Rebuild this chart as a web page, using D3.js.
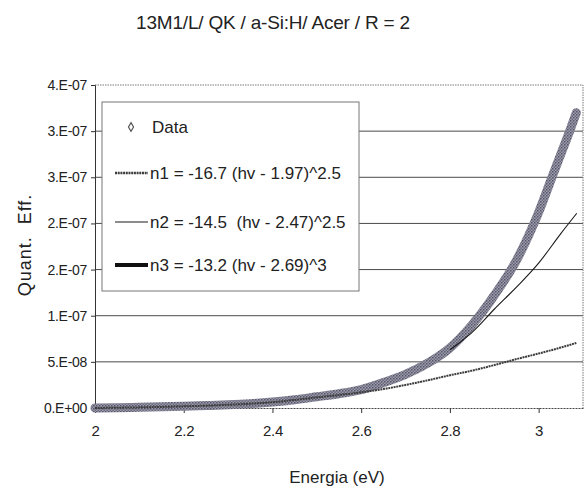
<!DOCTYPE html>
<html>
<head>
<meta charset="utf-8">
<script src="https://cdn.jsdelivr.net/npm/d3@7"></script>
<style>
  body { margin: 0; background: #fff; }
  text { font-family: "Liberation Sans", Arial, sans-serif; fill: #222; }
</style>
</head>
<body>
<svg id="chart" width="587" height="494"></svg>
<script>
// measured data (photon energy in eV, quantum efficiency)
var energy = [2.00, 2.05, 2.10, 2.15, 2.20, 2.25, 2.30, 2.35, 2.40, 2.45, 2.50, 2.55,
              2.60, 2.65, 2.70, 2.75, 2.80, 2.85, 2.90, 2.95, 3.00, 3.03, 3.05, 3.07, 3.085];
var qeData = [0, 0.3e-9, 0.8e-9, 1.3e-9, 1.9e-9, 2.6e-9, 3.4e-9, 4.6e-9, 6.5e-9, 9.0e-9, 1.22e-8, 1.55e-8,
              2.0e-8, 2.75e-8, 3.65e-8, 4.85e-8, 6.5e-8, 9.0e-8, 1.22e-7, 1.6e-7, 2.12e-7, 2.5e-7, 2.75e-7, 3.0e-7, 3.2e-7];

// fit curves
var n1Energy = [2.00, 2.10, 2.20, 2.30, 2.40, 2.50, 2.60, 2.65, 2.70, 2.75, 2.80, 2.85, 2.90, 2.95, 3.00, 3.05, 3.085];
var n1Values = [0, 0.7e-9, 1.8e-9, 3.5e-9, 6.3e-9, 1.15e-8, 1.7e-8, 2.05e-8, 2.5e-8, 3.0e-8, 3.55e-8, 4.05e-8,
                4.65e-8, 5.3e-8, 5.9e-8, 6.55e-8, 7.05e-8];
var n2Energy = [2.80, 2.83, 2.85, 2.90, 2.95, 3.00, 3.05, 3.086];
var n2Values = [6.3e-8, 7.4e-8, 8.2e-8, 1.07e-7, 1.31e-7, 1.57e-7, 1.89e-7, 2.11e-7];
var n3Energy = [2.75, 2.80, 2.85, 2.90, 2.95, 3.00, 3.05, 3.08];
var n3Values = [4.8e-8, 6.4e-8, 8.9e-8, 1.21e-7, 1.59e-7, 2.1e-7, 2.73e-7, 3.12e-7];

var yTicks = [0, 5e-8, 1e-7, 1.5e-7, 2e-7, 2.5e-7, 3e-7, 3.5e-7];
var yTickLabels = ["0.E+00", "5.E-08", "1.E-07", "2.E-07", "2.E-07", "3.E-07", "3.E-07", "4.E-07"];
var xTicks = [2, 2.2, 2.4, 2.6, 2.8, 3];
var xTickLabels = ["2", "2.2", "2.4", "2.6", "2.8", "3"];

var legendLabels = ["Data", "n1 = -16.7 (hv - 1.97)^2.5", "n2 = -14.5  (hv - 2.47)^2.5", "n3 = -13.2 (hv - 2.69)^3"];

(function() {
  var svg = d3.select('#chart');
  var plotL = 95, plotR = 583, plotT = 85, plotB = 408;

  var x = d3.scaleLinear().domain([2, 3.1]).range([plotL, plotR]);
  var y = d3.scaleLinear().domain([0, 3.5e-7]).range([plotB, plotT]);

  // texture for the data band (looks like a halftone in the scan)
  var defs = svg.append('defs');
  var pat = defs.append('pattern').attr('id', 'band')
    .attr('patternUnits', 'userSpaceOnUse').attr('width', 3).attr('height', 3);
  pat.append('rect').attr('width', 3).attr('height', 3).attr('fill', '#9c9cad');
  pat.append('rect').attr('width', 1.5).attr('height', 1.5).attr('fill', '#55556a');
  pat.append('rect').attr('x', 1.5).attr('y', 1.5).attr('width', 1.5).attr('height', 1.5).attr('fill', '#6a6a7c');

  // title
  svg.append('text').attr('x', 273).attr('y', 29).attr('text-anchor', 'middle')
    .style('font-size', '19px').style('letter-spacing', '-0.2px')
    .text('13M1/L/ QK / a-Si:H/ Acer / R = 2');

  // gridlines
  svg.append('g').selectAll('line').data(yTicks.slice(1, -1)).enter()
    .append('line')
    .attr('x1', plotL).attr('x2', plotR)
    .attr('y1', function(d){ return y(d); }).attr('y2', function(d){ return y(d); })
    .style('stroke', '#4a4a4a').style('stroke-width', 1);

  // plot border (dotted in the scan)
  svg.append('path')
    .attr('d', 'M' + plotL + ',' + plotT + 'H' + plotR + 'V' + plotB)
    .style('fill', 'none').style('stroke', '#7a7a7a').style('stroke-dasharray', '1.5,1');

  // axes
  var yAxis = d3.axisLeft(y).tickValues(yTicks)
    .tickFormat(function(d, i){ return yTickLabels[i]; })
    .tickSize(4).tickPadding(4);
  var gy = svg.append('g').attr('transform', 'translate(' + plotL + ',0)').call(yAxis);
  gy.select('.domain').style('stroke', '#333');
  gy.selectAll('.tick line').style('stroke', '#333');
  gy.selectAll('.tick text').style('font-size', '14px').style('letter-spacing', '-0.3px')
    .style('font-family', '"Liberation Sans", Arial, sans-serif').style('fill', '#222');

  var xAxis = d3.axisBottom(x).tickValues(xTicks)
    .tickFormat(function(d, i){ return xTickLabels[i]; })
    .tickSize(5).tickSizeOuter(0).tickPadding(12);
  var gx = svg.append('g').attr('transform', 'translate(0,' + plotB + ')').call(xAxis);
  gx.select('.domain').style('stroke', '#444').style('stroke-dasharray', '2,1');
  gx.selectAll('.tick line').style('stroke', '#333');
  gx.selectAll('.tick text').style('font-size', '15px').style('letter-spacing', '-0.3px')
    .style('font-family', '"Liberation Sans", Arial, sans-serif').style('fill', '#222');

  // axis titles
  svg.append('text').attr('x', 337).attr('y', 483).attr('text-anchor', 'middle')
    .style('font-size', '17px').text('Energia (eV)');
  svg.append('text').attr('transform', 'translate(31,245) rotate(-90)').attr('text-anchor', 'middle')
    .style('font-size', '18px').style('letter-spacing', '1px').style('white-space', 'pre')
    .text('Quant.  Eff.');

  // series
  var line = d3.line()
    .x(function(d){ return x(d[0]); })
    .y(function(d){ return y(d[1]); })
    .curve(d3.curveMonotoneX);

  function pairs(xs, ys) { return xs.map(function(v, i){ return [v, ys[i]]; }); }

  svg.append('path').datum(pairs(n3Energy, n3Values)).attr('d', line)
    .style('fill', 'none').style('stroke', '#111').style('stroke-width', 4);

  svg.append('path').datum(pairs(energy, qeData)).attr('d', line)
    .style('fill', 'none').style('stroke', 'url(#band)').style('stroke-width', 9)
    .style('stroke-linecap', 'round');

  svg.append('path').datum(pairs(n1Energy, n1Values)).attr('d', line)
    .style('fill', 'none').style('stroke', '#3c3c3c').style('stroke-width', 2)
    .style('stroke-dasharray', '2,0.7');

  svg.append('path').datum(pairs(n2Energy, n2Values)).attr('d', line)
    .style('fill', 'none').style('stroke', '#1a1a1a').style('stroke-width', 1.1);

  // legend
  var lg = svg.append('g').attr('class', 'legend');
  lg.append('rect').attr('x', 102).attr('y', 102).attr('width', 257).attr('height', 189)
    .style('fill', '#fff').style('stroke', '#777').style('stroke-width', 1);

  var rowY = [127, 173, 222, 265];
  var sym = d3.symbol().type(d3.symbolDiamond).size(22);
  lg.append('path').attr('d', sym).attr('transform', 'translate(131,' + rowY[0] + ')')
    .style('fill', '#fff').style('stroke', '#555').style('stroke-width', 1.2);

  var legendStyles = [
    { stroke: '#3c3c3c', width: 2.4, dash: '2,0.7' },
    { stroke: '#1a1a1a', width: 1.1, dash: null },
    { stroke: '#111', width: 4, dash: null }];

  lg.selectAll('line.key').data(legendStyles).enter()
    .append('line').attr('class', 'key')
    .attr('x1', 115).attr('x2', 148)
    .attr('y1', function(d, i){ return rowY[i + 1]; })
    .attr('y2', function(d, i){ return rowY[i + 1]; })
    .style('stroke', function(d){ return d.stroke; })
    .style('stroke-width', function(d){ return d.width; })
    .style('stroke-dasharray', function(d){ return d.dash; });

  lg.selectAll('text').data(legendLabels).enter()
    .append('text')
    .attr('x', function(d, i){ return i == 0 ? 152 : 150; })
    .attr('y', function(d, i){ return rowY[i] + 6; })
    .style('font-size', '17px').style('letter-spacing', '0px')
    .style('white-space', 'pre')
    .text(function(d){ return d; });
})();
</script>
</body>
</html>
